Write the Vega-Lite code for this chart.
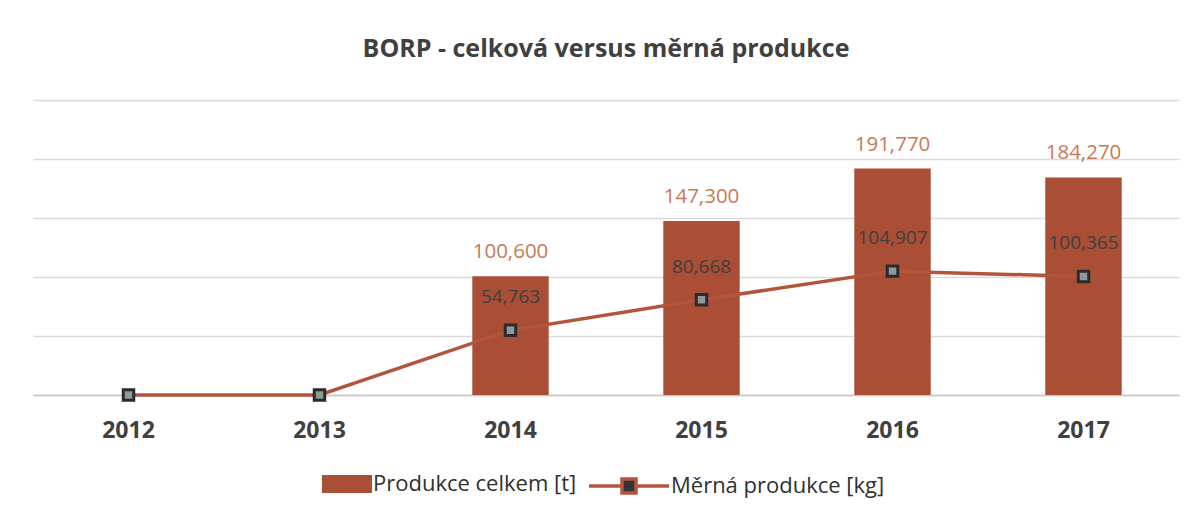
{
  "$schema": "https://vega.github.io/schema/vega-lite/v6.json",
  "width": 1194,
  "height": 513,
  "autosize": {"type": "fit", "contains": "padding"},
  "padding": {"left": 33, "top": 37, "right": 15, "bottom": 13},
  "background": "white",
  "config": {
    "locale": {"number": {"decimal": ",", "thousands": " ", "grouping": [3], "currency": ["", " Kč"]}},
    "view": {"stroke": null},
    "font": "Open Sans",
    "legend": {"layout": {"bottom": {"anchor": "middle", "direction": "horizontal", "margin": 30}}}
  },
  "title": {
    "text": "BORP - celková versus měrná produkce",
    "fontSize": 25,
    "font": "Open Sans",
    "fontWeight": "bold",
    "color": "#404040",
    "offset": 26,
    "anchor": "middle"
  },
  "data": {
    "values": [
      {"rok": "2012", "celkem": 0, "merna": 0},
      {"rok": "2013", "celkem": 0, "merna": 0},
      {"rok": "2014", "celkem": 100.6, "merna": 54.763},
      {"rok": "2015", "celkem": 147.3, "merna": 80.668},
      {"rok": "2016", "celkem": 191.77, "merna": 104.907},
      {"rok": "2017", "celkem": 184.27, "merna": 100.365}
    ]
  },
  "encoding": {
    "x": {
      "field": "rok",
      "type": "ordinal",
      "scale": {"paddingInner": 0.6, "paddingOuter": 0.3},
      "axis": {
        "title": null,
        "labelAngle": 0,
        "labelFontSize": 23,
        "labelFontWeight": "bold",
        "labelColor": "#404040",
        "labelPadding": 24,
        "ticks": false,
        "domainColor": "#c8c8c8",
        "domainWidth": 1.5
      }
    }
  },
  "layer": [
    {
      "mark": {"type": "bar"},
      "encoding": {
        "y": {
          "field": "celkem",
          "type": "quantitative",
          "scale": {"domain": [0, 250]},
          "axis": {"title": null, "labels": false, "ticks": false, "domain": false, "values": [0, 50, 100, 150, 200, 250], "gridColor": "#dadada", "gridWidth": 1.5}
        },
        "fill": {
          "datum": "Produkce celkem [t]",
          "scale": {"range": ["#AA4E36"]},
          "legend": {
            "title": null,
            "orient": "bottom",
            "offset": 22,
            "labelFontSize": 22,
            "labelColor": "#303030",
            "labelLimit": 400,
            "symbolType": "M-1.25,-0.45H1.25V0.45H-1.25Z",
            "symbolSize": 1600,
            "symbolStrokeWidth": 0,
            "labelOffset": 6
          }
        }
      }
    },
    {
      "transform": [{"filter": "datum.celkem > 0"}],
      "mark": {"type": "text", "dy": -24, "fontSize": 20.5, "color": "#C97A55"},
      "encoding": {
        "y": {"field": "celkem", "type": "quantitative"},
        "text": {"field": "celkem", "type": "quantitative", "format": ".3f"}
      }
    },
    {
      "mark": {"type": "line", "strokeWidth": 3.5},
      "encoding": {
        "y": {"field": "merna", "type": "quantitative"},
        "stroke": {
          "datum": "Měrná produkce [kg]",
          "scale": {"range": ["#B3553C"]},
          "legend": {
            "title": null,
            "orient": "bottom",
            "offset": 22,
            "labelFontSize": 22,
            "labelColor": "#303030",
            "labelLimit": 400,
            "symbolType": "M-2,0H-0.35M0.35,0H2M-0.35,-0.35H0.35V0.35H-0.35Z",
            "symbolSize": 1600,
            "symbolStrokeWidth": 3.5,
            "symbolFillColor": "#333333",
            "labelOffset": 20
          }
        }
      }
    },
    {
      "mark": {"type": "point", "shape": "square", "filled": true, "size": 110, "fill": "#8e9999", "stroke": "#2b2b2b", "strokeWidth": 3, "opacity": 1},
      "encoding": {
        "y": {"field": "merna", "type": "quantitative"}
      }
    },
    {
      "transform": [{"filter": "datum.merna > 0"}],
      "mark": {"type": "text", "dy": -33, "fontSize": 19, "color": "#404040"},
      "encoding": {
        "y": {"field": "merna", "type": "quantitative"},
        "text": {"field": "merna", "type": "quantitative", "format": ".3f"}
      }
    }
  ]
}
